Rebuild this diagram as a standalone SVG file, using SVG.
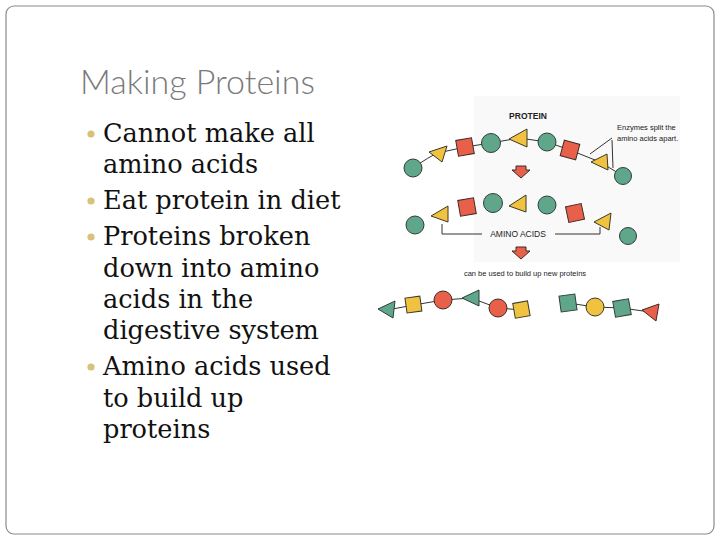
<svg xmlns="http://www.w3.org/2000/svg" width="720" height="540" viewBox="0 0 720 540">
<style>
.b{font-family:"DejaVu Serif",serif;font-size:25.6px;fill:#111}
.dot{fill:#d8c17a}
.g{fill:#5fa68a;stroke:#2f3f38;stroke-width:1}
.y{fill:#f0c240;stroke:#3a3a2a;stroke-width:1}
.r{fill:#e8604a;stroke:#3f2a25;stroke-width:1}
.ch{fill:none;stroke:#333;stroke-width:1}
.lb{font-family:"Liberation Sans",sans-serif;fill:#222}
</style>
<rect width="720" height="540" fill="#fff"/>
<rect x="6" y="6" width="708" height="528" rx="8" fill="none" stroke="#8a8a8a" stroke-width="1.2"/>
<text x="80" y="94" font-family="Lato,sans-serif" font-weight="300" font-size="34" fill="#7a7a7a">Making Proteins</text>
<g id="bullets">
<circle class="dot" cx="91" cy="134" r="3.6"/><circle class="dot" cx="91" cy="201" r="3.6"/><circle class="dot" cx="91" cy="237" r="3.6"/><circle class="dot" cx="91" cy="367" r="3.6"/>
<text class="b" x="103" y="142">Cannot make all</text>
<text class="b" x="103" y="173">amino acids</text>
<text class="b" x="103" y="209">Eat protein in diet</text>
<text class="b" x="103" y="245">Proteins broken</text>
<text class="b" x="103" y="277">down into amino</text>
<text class="b" x="103" y="308">acids in the</text>
<text class="b" x="103" y="339">digestive system</text>
<text class="b" x="103" y="375">Amino acids used</text>
<text class="b" x="103" y="407">to build up</text>
<text class="b" x="103" y="438">proteins</text>
</g>
<g id="figure">
<rect x="474" y="96" width="206" height="166" fill="#f9f9f9"/>
<g id="connectors">
<path class="ch" d="M413 168 Q430 156 438 153 L465 147 L491 143 L519 138 L547 142 L570 150 L600 162 L623 176"/>
<path class="ch" d="M387 310 L414 305 L443 300 L471 298 L498 308 L522 310"/>
<path class="ch" d="M568 303 L595 307 L622 308 L650 312"/>
<path class="ch" d="M612 138 L590 154 M612 140 L613 168"/>
<path class="ch" d="M442 224 V234 H482 M555 234 H600 V227"/>
</g>
<text class="lb" x="528" y="119" font-size="8.5" text-anchor="middle" font-weight="bold">PROTEIN</text>
<text class="lb" x="617" y="130" font-size="7.5">Enzymes split the</text>
<text class="lb" x="617" y="141" font-size="7.5">amino acids apart.</text>
<text class="lb" x="518" y="237" font-size="8.5" text-anchor="middle">AMINO ACIDS</text>
<text class="lb" x="525" y="276" font-size="7.5" text-anchor="middle">can be used to build up new proteins</text>
<path class="r" d="M516 166 h10 v4 h4 l-9 8 l-9 -8 h4z"/>
<path class="r" d="M516 247 h10 v4 h4 l-9 8 l-9 -8 h4z"/>
<circle class="g" cx="413" cy="168" r="9"/>
<polygon class="y" points="429,152 447,146 442,162"/>
<rect class="r" x="457" y="139" width="16" height="16" transform="rotate(-10 465 147)"/>
<circle class="g" cx="491" cy="143" r="9.5"/>
<polygon class="y" points="509,139 527,129 527,147"/>
<circle class="g" cx="547" cy="142" r="9"/>
<rect class="r" x="562" y="142" width="16" height="16" transform="rotate(15 570 150)"/>
<polygon class="y" points="591,162 607,154 608,170"/>
<circle class="g" cx="623" cy="176" r="8.5"/>
<circle class="g" cx="415" cy="225" r="9"/>
<polygon class="y" points="431,216 448,206 448,222"/>
<rect class="r" x="459" y="199" width="16" height="16" transform="rotate(-10 467 207)"/>
<circle class="g" cx="493" cy="203" r="9.5"/>
<polygon class="y" points="509,206 526,195 526,212"/>
<circle class="g" cx="547" cy="205" r="9"/>
<rect class="r" x="567" y="205" width="16" height="16" transform="rotate(-12 575 213)"/>
<polygon class="y" points="594,222 611,213 609,230"/>
<circle class="g" cx="628" cy="236" r="8.5"/>
<polygon class="g" points="378,309 395,301 393,318"/>
<rect class="y" x="406" y="297" width="15" height="15" transform="rotate(-8 414 305)"/>
<circle class="r" cx="443" cy="300" r="9"/>
<polygon class="g" points="462,298 479,290 479,306"/>
<circle class="r" cx="498" cy="308" r="9"/>
<rect class="y" x="514" y="302" width="15" height="15" transform="rotate(-10 522 310)"/>
<rect class="g" x="560" y="295" width="16" height="16" transform="rotate(-8 568 303)"/>
<circle class="y" cx="595" cy="307" r="9"/>
<rect class="g" x="614" y="300" width="16" height="16" transform="rotate(-10 622 308)"/>
<polygon class="r" points="642,310 659,304 656,321"/>
</g>
</svg>
